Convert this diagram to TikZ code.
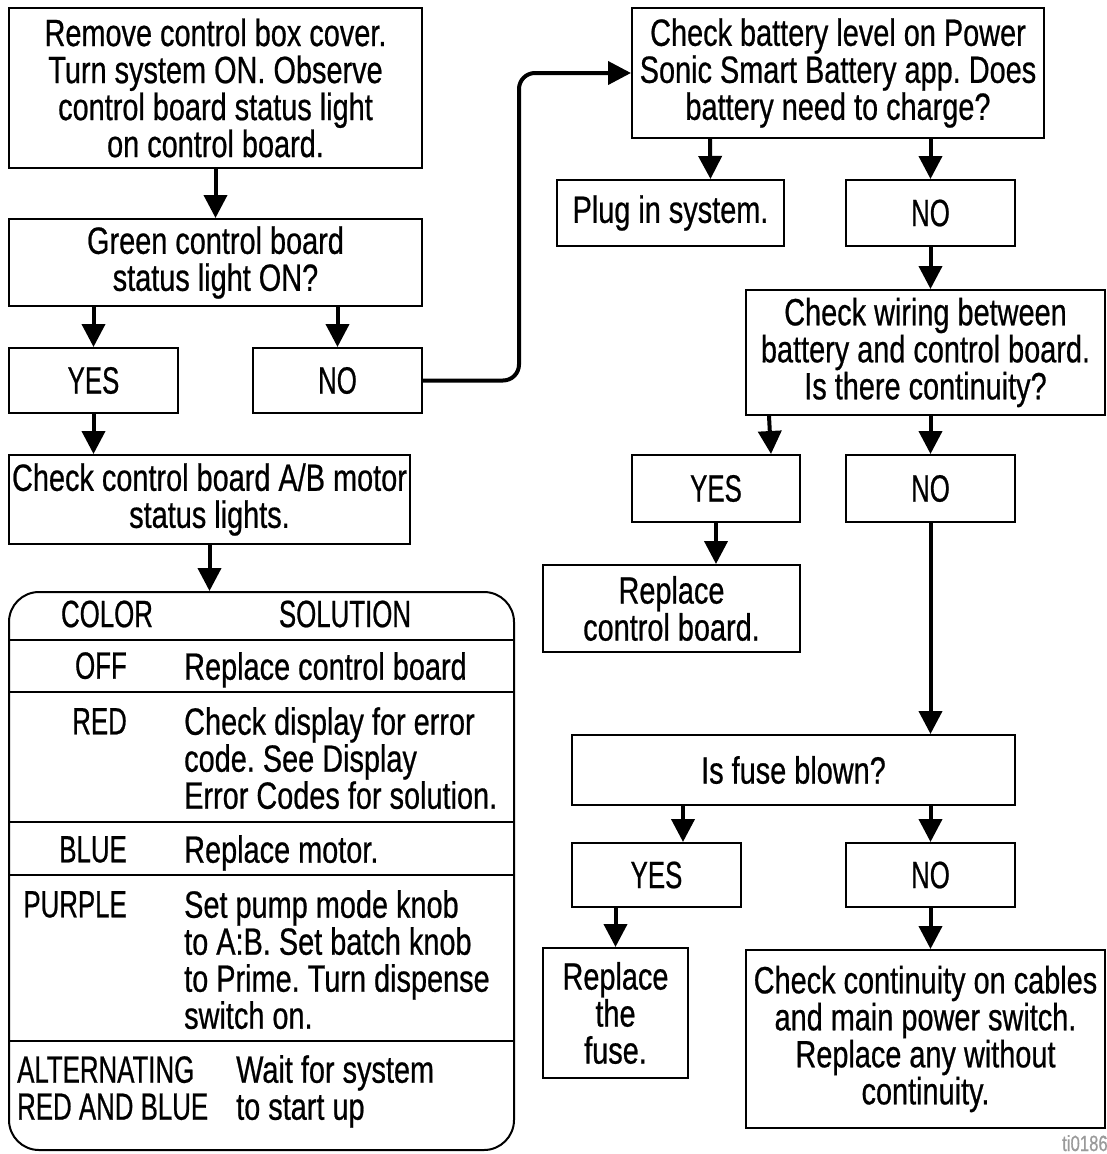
\documentclass[tikz,border=0pt]{standalone}
\usepackage{fontspec}
\setmainfont{Liberation Sans}[FakeStretch=0.76,FakeBold=0.6]
\newfontfamily\capfamily{Liberation Sans}[FakeStretch=0.68,FakeBold=0.6]
\usetikzlibrary{arrows.meta,calc}
\newcommand{\boxfont}{\fontsize{38}{37}\selectfont}
\newcommand{\capfont}{\capfamily\fontsize{38}{37}\selectfont}
\definecolor{idgray}{HTML}{9A9A9A}
\frenchspacing

\tikzset{
  box/.style={draw,line width=2pt,inner sep=0pt,align=center,font=\boxfont},
  answer/.style={box,font=\capfont},
  cell/.style={inner sep=0pt,align=left,font=\boxfont},
  capcell/.style={cell,font=\capfont},
  arr/.style={-{Triangle[width=23pt,length=23pt]},line width=4pt},
}

\begin{document}
\begin{tikzpicture}[x=1pt,y=-1pt]
\useasboundingbox (0,0) rectangle (1107,1154);

% left column
\node[box,minimum width=413,minimum height=160] (remove) at (215.5,88) {Remove control box cover.\\Turn system ON. Observe\\control board status light\\on control board.};
\node[box,minimum width=413,minimum height=87] (green) at (215.5,262.5) {Green control board\\status light ON?};
\node[answer,minimum width=169,minimum height=65] (yesA) at (93.5,380.5) {YES};
\node[answer,minimum width=169,minimum height=65] (noA) at (337.5,380.5) {NO};
\node[box,minimum width=401,minimum height=89] (motor) at (209.5,499.5) {Check control board A/B motor\\status lights.};
\node[box,rounded corners=30pt,minimum width=505,minimum height=558] (table) at (261.5,871) {};

\draw[arr] (remove) -- (green);
\draw[arr] (green.south -| yesA.north) -- (yesA.north);
\draw[arr] (green.south -| noA.north) -- (noA.north);
\draw[arr] (yesA.south) -- (yesA.south |- motor.north);
\draw[arr] (motor.south) -- (motor.south |- table.north);

% colour table
\foreach \y in {640,692,822,875,1041}
  \draw[line width=2pt] (9,\y) -- (514,\y);
\node[capcell] (hcol) at (107,614) {COLOR};
\node[capcell] (hsol) at (345,614) {SOLUTION};
\node[capcell,anchor=north east] (coff) at (127,652) {OFF};
\node[cell,anchor=north west] (soff) at (184,652) {Replace control board};
\node[capcell,anchor=north east] (cred) at (127,708) {RED};
\node[cell,anchor=north west] (sred) at (184,707) {Check display for error\\code. See Display\\Error Codes for solution.};
\node[capcell,anchor=north east] (cblue) at (127,836) {BLUE};
\node[cell,anchor=north west] (sblue) at (184,835) {Replace motor.};
\node[capcell,anchor=north east] (cpurple) at (127,891) {PURPLE};
\node[cell,anchor=north west] (spurple) at (184,890) {Set pump mode knob\\to A:B. Set batch knob\\to Prime. Turn dispense\\switch on.};
\node[capcell,anchor=north west] (calt) at (17,1056) {ALTERNATING\\RED AND BLUE};
\node[cell,anchor=north west] (salt) at (236,1055) {Wait for system\\to start up};

% right column
\node[box,minimum width=412,minimum height=130] (battery) at (838,73) {Check battery level on Power\\Sonic Smart Battery app. Does\\battery need to charge?};
\node[box,minimum width=227,minimum height=66] (plug) at (670.5,213) {Plug in system.};
\node[answer,minimum width=169,minimum height=66] (noB) at (930.5,213) {NO};
\node[box,minimum width=359,minimum height=125] (wiring) at (925.5,352.5) {Check wiring between\\battery and control board.\\Is there continuity?};
\node[answer,minimum width=168,minimum height=67] (yesC) at (716,488.5) {YES};
\node[answer,minimum width=169,minimum height=67] (noC) at (930.5,488.5) {NO};
\node[box,minimum width=257,minimum height=87] (board) at (671.5,608.5) {Replace\\control board.};
\node[box,minimum width=443,minimum height=70] (fuse) at (793.5,770) {Is fuse blown?};
\node[answer,minimum width=169,minimum height=64] (yesD) at (656.5,875) {YES};
\node[answer,minimum width=169,minimum height=64] (noD) at (930.5,875) {NO};
\node[box,minimum width=145,minimum height=130] (newfuse) at (615.5,1013) {Replace\\the\\fuse.};
\node[box,minimum width=359,minimum height=178] (cables) at (925.5,1039) {Check continuity on cables\\and main power switch.\\Replace any without\\continuity.};
\node[font=\fontsize{22}{22}\selectfont,text=idgray,anchor=base west,inner sep=0pt] (figid) at (1062,1151) {ti0186};

\draw[arr,rounded corners=16pt] (noA.east) -- ++(96,0) |- (battery.west);
\draw[arr] ($(battery.south)+(-128,0)$) -- ($(plug.north)+(40,0)$);
\draw[arr] (battery.south -| noB.north) -- (noB.north);
\draw[arr] (noB.south) -- (noB.south |- wiring.north);
\draw[arr] ($(wiring.south west)+(24,0)$) -- ($(yesC.north east)+(-30,0)$);
\draw[arr] (wiring.south -| noC.north) -- (noC.north);
\draw[arr] (yesC.south) -- (yesC.south |- board.north);
\draw[arr] (noC.south) -- (noC.south |- fuse.north);
\draw[arr] ($(fuse.south west)+(112,0)$) -- ($(yesD.north west)+(112,0)$);
\draw[arr] (fuse.south -| noD.north) -- (noD.north);
\draw[arr] (newfuse.north |- yesD.south) -- (newfuse.north);
\draw[arr] (noD.south) -- (noD.south |- cables.north);
\end{tikzpicture}
\end{document}
